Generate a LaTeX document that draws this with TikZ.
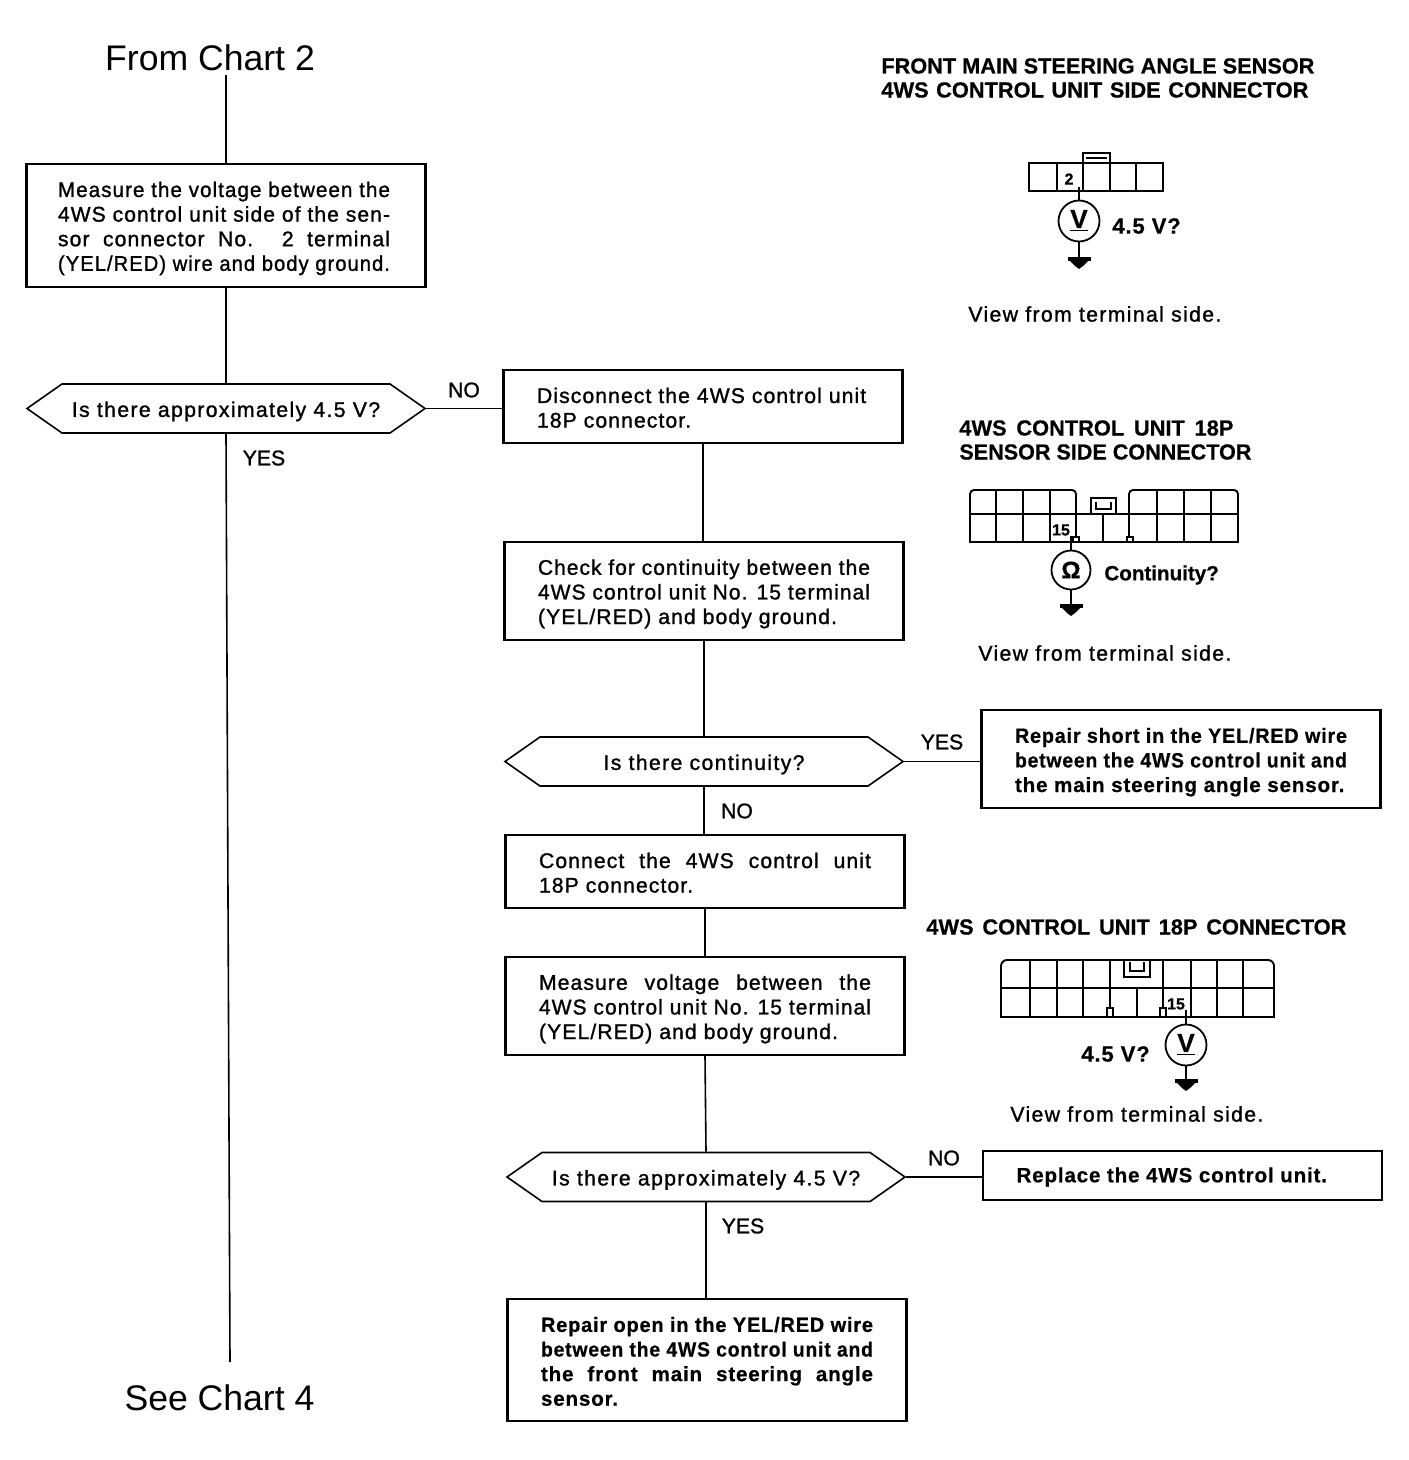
\documentclass[tikz,border=0pt]{standalone}
\usepackage{fontspec}
\usetikzlibrary{shapes.symbols}
\setmainfont{Liberation Sans}
\newfontfamily\bodyf{Liberation Sans}[FakeBold=1.2,LetterSpace=5]
\newfontfamily\widef{Liberation Sans}[FakeBold=1.2,LetterSpace=6.4]
\newfontfamily\tightf{Liberation Sans}[FakeBold=1.2]
\newfontfamily\boxbf{Liberation Sans Bold}[FakeBold=0.6,LetterSpace=4]
\newfontfamily\headf{Liberation Sans Bold}[FakeBold=0.6]
\newcommand\bodyfont{\bodyf\fontsize{10.6}{12.3}\selectfont}
\newcommand\widefont{\widef\fontsize{10.6}{12.3}\selectfont}
\newcommand\tightfont{\tightf\fontsize{10.6}{12.3}\selectfont}
\newcommand\boldfont{\boxbf\fontsize{10.3}{12.3}\selectfont}
\newsavebox\linebx
\newcommand\HL[2]{\sbox\linebx{#2}\ifdim\wd\linebx>#1\relax\resizebox{#1}{\height}{\usebox\linebx}\else\makebox[#1][s]{#2}\fi}
\newcommand\J[1]{\HL{166pt}{#1}}
\newcommand\Lf[1]{\makebox[166pt][l]{#1}}
\newcommand\F{\rule{0pt}{10.6pt}}
\newcommand\G{\rule{0pt}{8.9pt}}
\tikzset{
  x=0.5pt,y=-0.5pt,
  flow/.style={line width=0.8pt},
  box/.style={draw,line width=1.05pt,inner sep=0pt,align=left,font=\bodyfont,minimum width=199.5pt},
  boldbox/.style={box,font=\boldfont},
  choice/.style={draw,line width=0.8pt,shape=signal,signal to=west and east,signal pointer angle=70,inner sep=0pt,minimum width=199pt,minimum height=24.5pt,font=\widefont,execute at begin node=\F},
  label/.style={inner sep=0pt,font=\widefont},
  answer/.style={inner sep=0pt,font=\tightfont},
  head/.style={inner sep=0pt,font=\headf\fontsize{10.9}{12.3}\selectfont,anchor=west},
  big/.style={inner sep=0pt,font=\fontsize{17.8}{20}\selectfont},
  meter/.style={draw,circle,line width=0.9pt,minimum size=20.5pt,inner sep=0pt,font=\headf\fontsize{13}{14}\selectfont},
  conn/.style={line width=0.95pt},
  thinc/.style={line width=0.8pt},
  pin/.style={inner sep=0pt,fill=white,font=\headf\fontsize{8}{9}\selectfont},
}
\newcommand\gnd[1]{%
  \fill (#1) ++(-11.5,0) rectangle ++(23,4);
  \fill (#1) ++(-9,4) -- ++(18,0) -- ++(-5,5) -- ++(-4,3) -- ++(-4,-3) -- cycle;}
\newcommand\Vsym{\underline{V}}
\begin{document}
\begin{tikzpicture}
\useasboundingbox (0,0) rectangle (1408,1460);
% left chain
\node[big] (from) at (210,58) {From Chart 2};
\node[box,minimum height=61.5pt] (b1) at (226,225.5) {\F\J{Measure the voltage between the}\kern2pt\\\J{4WS control unit side of the sen-}\\\J{sor connector No. 2 terminal}\\\J{(YEL/RED) wire and body ground.}};
\node[choice] (d1) at (226,408.5) {Is there approximately 4.5 V?};
\node[big] (see) at (219.5,1398) {See Chart 4};
\draw[flow] (226,75) coordinate (fa) -- (b1.north);
\draw[flow] (b1.south) -- (d1.north);
\coordinate (seetop) at (230,1362);
\draw[flow] (d1.south) -- (seetop);
\node[answer] (yes1) at (264,458) {YES};
\node[answer] (no1) at (464,390) {NO};
% middle chain
\node[box,minimum height=36.5pt] (b2) at (703,406.5) {\G\Lf{Disconnect the 4WS control unit}\\\Lf{18P connector.}};
\node[box,minimum height=49pt] (b3) at (704,591) {\F\J{Check for continuity between the}\\\J{4WS control unit No. 15 terminal}\\\Lf{(YEL/RED) and body ground.}};
\node[choice] (d2) at (704,761.5) {Is there continuity?};
\node[box,minimum height=36.5pt] (b5) at (705,871.5) {\G\J{Connect the 4WS control unit}\\\Lf{18P connector.}};
\node[box,minimum height=49pt] (b6) at (705,1006) {\F\J{Measure voltage between the}\\\J{4WS control unit No. 15 terminal}\\\Lf{(YEL/RED) and body ground.}};
\node[choice] (d3) at (706,1177) {Is there approximately 4.5 V?};
\node[boldbox,minimum height=61pt] (b8) at (707,1360) {\G\J{Repair open in the YEL/RED wire}\\\J{between the 4WS control unit and}\\\J{the front main steering angle}\\\Lf{sensor.}};
\node[boldbox,minimum height=49pt] (b4) at (1181,759) {\F\J{Repair short in the YEL/RED wire}\\\J{between the 4WS control unit and}\\\Lf{the main steering angle sensor.}};
\node[boldbox,minimum height=24.5pt] (b7) at (1182.5,1175.5) {\G\Lf{Replace the 4WS control unit.}};
\draw[flow] (d1.east) -- (b2.west |- d1.east);
\draw[flow] (b2.south) -- (b2.south |- b3.north);
\draw[flow] (b3.north |- b3.south) -- (d2.north);
\draw[flow] (d2.south) -- (d2.south |- b5.north);
\draw[flow] (b5.south) -- (b6.north);
\draw[flow] (b6.south) -- (d3.north);
\draw[flow] (d3.south) -- (d3.south |- b8.north);
\draw[flow] (d2.east) -- (b4.west |- d2.east);
\draw[flow] (d3.east) -- (b7.west |- d3.east);
\node[answer] (yes2) at (942,742) {YES};
\node[answer] (no2) at (737,811) {NO};
\node[answer] (no3) at (944,1158) {NO};
\node[answer] (yes3) at (743,1226) {YES};
% headings
\node[head] (h1) at (881,66) {\HL{216.5pt}{FRONT MAIN STEERING ANGLE SENSOR}};
\node[head] (h2) at (881,90) {\HL{213.5pt}{4WS CONTROL UNIT SIDE CONNECTOR}};
\node[head] (h3) at (959,428) {\HL{137pt}{4WS CONTROL UNIT 18P}};
\node[head] (h4) at (959,452) {\HL{146pt}{SENSOR SIDE CONNECTOR}};
\node[head] (h5) at (926,927) {\HL{210pt}{4WS CONTROL UNIT 18P CONNECTOR}};
\node[label,anchor=west] (v1) at (968,314) {View from terminal side.};
\node[label,anchor=west] (v2) at (978,653) {View from terminal side.};
\node[label,anchor=west] (v3) at (1010,1114) {View from terminal side.};
% connector 1
\draw[conn] (1029,163) rectangle (1163,191);
\foreach \x in {1057,1083,1110,1136} \draw[conn] (\x,163) -- (\x,191);
\draw[thinc] (1083,163) -- (1083,153) -- (1110,153) -- (1110,163);
\draw[thinc] (1086,158) -- (1107,158);
\node[pin] (p1) at (1069,179) {2};
\node[meter] (m1) at (1079,221) {\Vsym};
\coordinate (w1) at (1079,187);
\coordinate (g1) at (1079,257);
\draw[thinc] (w1) -- (m1.north);
\draw[thinc] (m1.south) -- (g1);
\gnd{g1}
\node[head,font=\boxbf\fontsize{11}{12}\selectfont] (t1) at (1112,226) {4.5 V?};
% connector 2
\draw[conn,rounded corners=2pt] (1076,514) -- (1076,490) -- (970,490) -- (970,514);
\draw[conn,rounded corners=2pt] (1129,514) -- (1129,490) -- (1238,490) -- (1238,514);
\draw[conn] (970,514) -- (1238,514);
\draw[conn] (970,514) -- (970,542) -- (1238,542) -- (1238,514);
\foreach \x in {996,1023,1050,1157,1184,1211} \draw[thinc] (\x,490) -- (\x,542);
\draw[thinc] (1076,514) -- (1076,537);
\draw[thinc] (1103,514) -- (1103,542);
\draw[thinc] (1129,514) -- (1129,537);
\draw[thinc] (1073,542) -- (1073,537) -- (1079,537) -- (1079,542);
\draw[thinc] (1127,542) -- (1127,537) -- (1133,537) -- (1133,542);
\draw[conn] (1091,514) -- (1091,498) -- (1116,498) -- (1116,514);
\draw[thinc] (1096,502) -- (1096,509) -- (1111,509) -- (1111,502);
\node[pin] (p2) at (1061,530) {15};
\node[meter,minimum size=19.5pt,font=\headf\fontsize{12}{13}\selectfont] (m2) at (1071,570) {Ω};
\coordinate (w2) at (1071,536);
\coordinate (g2) at (1071,604);
\draw[thinc] (w2) -- (m2.north);
\draw[thinc] (m2.south) -- (g2);
\gnd{g2}
\node[head,font=\headf\fontsize{10.3}{12}\selectfont] (t2) at (1104,575) {Continuity?};
% connector 3
\draw[conn,rounded corners=3pt] (1001,988) -- (1001,960) -- (1274,960) -- (1274,988);
\draw[conn] (1001,988) -- (1001,1017) -- (1274,1017) -- (1274,988);
\draw[thinc] (1001,988) -- (1274,988);
\foreach \x in {1030,1057,1083,1191,1217} \draw[thinc] (\x,960) -- (\x,1017);
\draw[conn] (1243,960) -- (1243,1017);
\draw[conn] (1110,960) -- (1110,988);
\draw[conn] (1163,960) -- (1163,988);
\draw[thinc] (1110,988) -- (1110,1008);
\draw[thinc] (1163,988) -- (1163,1008);
\draw[thinc] (1137,988) -- (1137,1017);
\draw[thinc] (1107,1017) -- (1107,1008) -- (1113,1008) -- (1113,1017);
\draw[thinc] (1160,1017) -- (1160,1008) -- (1166,1008) -- (1166,1017);
\draw[conn] (1124,960) -- (1124,977) -- (1150,977) -- (1150,960);
\draw[thinc] (1130,962) -- (1130,971) -- (1144,971) -- (1144,962);
\node[pin] (p3) at (1176,1004) {15};
\node[meter] (m3) at (1186,1045) {\Vsym};
\coordinate (w3) at (1186,1010);
\coordinate (g3) at (1186,1079);
\draw[thinc] (w3) -- (m3.north);
\draw[thinc] (m3.south) -- (g3);
\gnd{g3}
\node[head,font=\boxbf\fontsize{11}{12}\selectfont] (t3) at (1081,1054) {4.5 V?};
\end{tikzpicture}
\end{document}
